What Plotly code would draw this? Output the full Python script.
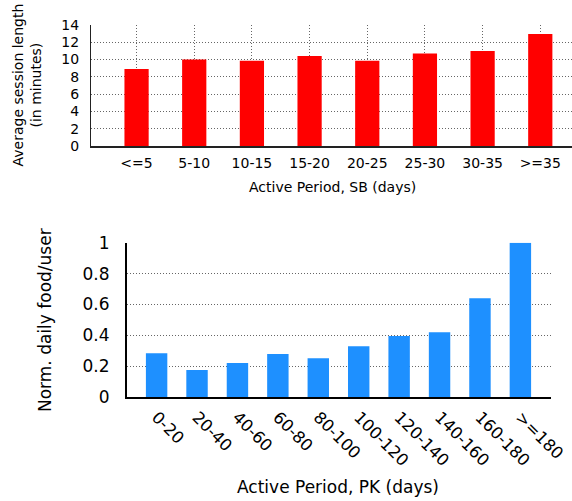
import plotly.graph_objects as go

# ---- data ----
sb_categories = ["<=5", "5-10", "10-15", "15-20", "20-25", "25-30", "30-35", ">=35"]
sb_session_minutes = [8.9, 10.0, 9.85, 10.4, 9.85, 10.7, 11.0, 12.95]

pk_categories = ["0-20", "20-40", "40-60", "60-80", "80-100", "100-120",
                 "120-140", "140-160", "160-180", ">=180"]
pk_food_per_user = [0.285, 0.177, 0.222, 0.28, 0.252, 0.33, 0.397, 0.42, 0.64, 1.0]

W, H = 572, 501
FONT = "DejaVu Sans, Liberation Sans, Arial"

def px_x(p):
    return p / W

def px_y(p):
    return 1 - p / H

fig = go.Figure()

fig.add_trace(go.Bar(
    x=sb_categories, y=sb_session_minutes, width=0.42,
    marker=dict(color="#FF0000", line=dict(width=0)),
    xaxis="x", yaxis="y", showlegend=False,
))
fig.add_trace(go.Bar(
    x=pk_categories, y=pk_food_per_user, width=0.53,
    marker=dict(color="#1E90FF", line=dict(width=0)),
    xaxis="x2", yaxis="y2", showlegend=False,
))

grid = dict(gridcolor="#666666", griddash="1px,2px", gridwidth=1)

fig.update_layout(
    width=W, height=H,
    margin=dict(l=0, r=0, t=0, b=0, autoexpand=False),
    paper_bgcolor="white", plot_bgcolor="white",
    font=dict(family=FONT, color="black"),
    xaxis=dict(
        domain=[px_x(91), 1.0], anchor="y", automargin=False,
        type="category", range=[-0.79, 7.55],
        showgrid=True, **grid,
        showline=True, linecolor="#222222", linewidth=2,
        ticks="", ticklabelstandoff=3,
        tickfont=dict(size=14, family=FONT),
        zeroline=False,
    ),
    yaxis=dict(
        domain=[px_y(146), px_y(25)], anchor="x", automargin=False,
        range=[0, 14], tickvals=[0, 2, 4, 6, 8, 10, 12, 14],
        showgrid=True, **grid,
        showline=True, linecolor="#222222", linewidth=1,
        ticks="", ticklabelstandoff=8,
        tickfont=dict(size=14, family=FONT),
        zeroline=False,
    ),
    xaxis2=dict(
        domain=[px_x(126.7), px_x(550.7)], anchor="y2", automargin=False,
        type="category", range=[-0.74, 9.75],
        showgrid=False,
        showline=True, linecolor="black", linewidth=1.5,
        ticks="", tickangle=45, ticklabelstandoff=2,
        tickfont=dict(size=16.5, family=FONT),
        zeroline=False,
    ),
    yaxis2=dict(
        domain=[px_y(397.3), px_y(242.7)], anchor="x2", automargin=False,
        range=[0, 1], tickvals=[0, 0.2, 0.4, 0.6, 0.8, 1],
        ticktext=["0", "0.2", "0.4", "0.6", "0.8", "1"],
        showgrid=True, **grid,
        showline=True, linecolor="black", linewidth=1.5,
        ticks="", ticklabelstandoff=12,
        tickfont=dict(size=17, family=FONT),
        zeroline=False,
    ),
    annotations=[
        dict(text="Average session length<br>(in minutes)", xref="paper", yref="paper",
             x=px_x(27), y=px_y(85.5), textangle=-90, showarrow=False,
             xanchor="center", yanchor="middle", font=dict(size=14, family=FONT)),
        dict(text="Active Period, SB (days)", xref="paper", yref="paper",
             x=px_x(332), y=px_y(187), showarrow=False,
             xanchor="center", yanchor="middle", font=dict(size=14, family=FONT)),
        dict(text="Norm. daily food/user", xref="paper", yref="paper",
             x=px_x(45), y=px_y(320), textangle=-90, showarrow=False,
             xanchor="center", yanchor="middle", font=dict(size=17, family=FONT)),
        dict(text="Active Period, PK (days)", xref="paper", yref="paper",
             x=px_x(337.5), y=px_y(486.7), showarrow=False,
             xanchor="center", yanchor="middle", font=dict(size=17, family=FONT)),
    ],
)

fig.write_html(
    "out.html",
    config={"displayModeBar": False},
    post_script="document.body.style.margin='0';document.body.style.overflow='hidden';",
)
